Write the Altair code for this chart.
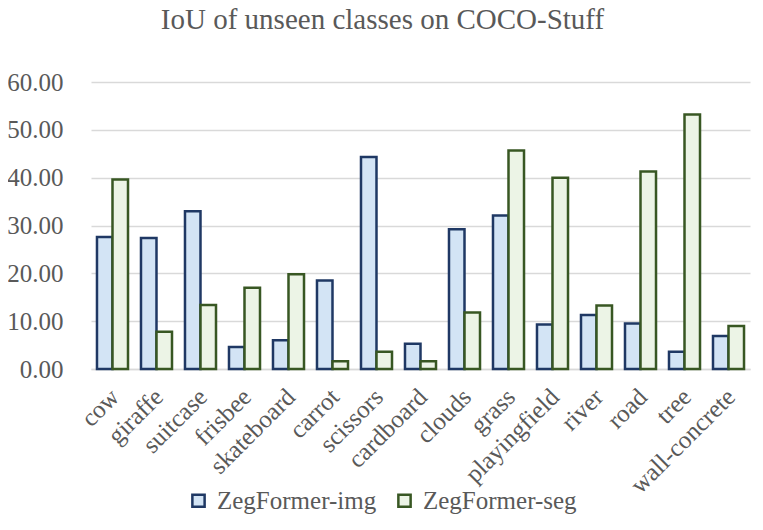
import altair as alt
import pandas as pd

categories = ["cow", "giraffe", "suitcase", "frisbee", "skateboard", "carrot", "scissors",
              "cardboard", "clouds", "grass", "playingfield", "river", "road", "tree", "wall-concrete"]
img_values = [27.6, 27.4, 33.0, 4.6, 6.0, 18.5, 44.3, 5.3, 29.2, 32.1, 9.3, 11.3, 9.5, 3.6, 6.9]
seg_values = [39.6, 7.8, 13.4, 17.0, 19.8, 1.6, 3.6, 1.6, 11.8, 45.7, 40.0, 13.3, 41.3, 53.2, 9.0]
series = ["ZegFormer-img", "ZegFormer-seg"]
fills = ["#D3E4F5", "#ECF4E6"]
strokes = ["#1F3864", "#385723"]

rows = []
for c, a, b in zip(categories, img_values, seg_values):
    rows.append({"cls": c, "series": series[0], "iou": a})
    rows.append({"cls": c, "series": series[1], "iou": b})
df = pd.DataFrame(rows)

FONT = "Liberation Serif"
GRAY = "#595959"
GRID = "#D9D9D9"

legend = alt.Legend(
    title=None, orient="none", direction="horizontal", legendX=95, legendY=406,
    labelFont=FONT, labelFontSize=25, labelColor=GRAY, symbolType="square",
    symbolSize=150, symbolStrokeWidth=2.5, labelOffset=6, columnPadding=15, padding=0,
)

chart = alt.Chart(df).mark_bar(strokeWidth=2.5, strokeJoin="miter").encode(
    x=alt.X("cls:N", sort=categories, title=None,
            scale=alt.Scale(paddingInner=0.295, paddingOuter=0.136),
            axis=alt.Axis(labelAngle=-45, labelFont=FONT, labelFontSize=25, labelColor=GRAY,
                          ticks=False, domainColor=GRID, domainWidth=1.5, labelPadding=15,
                          labelOffset=-6)),
    xOffset=alt.XOffset("series:N", sort=series, scale=alt.Scale(paddingInner=0, paddingOuter=0)),
    y=alt.Y("iou:Q", title=None, scale=alt.Scale(domain=[0, 60], nice=False),
            axis=alt.Axis(values=[0, 10, 20, 30, 40, 50, 60], format=".2f", labelFont=FONT,
                          labelFontSize=25, labelColor=GRAY, domain=False, ticks=False,
                          gridColor=GRID, gridWidth=1.5, labelPadding=28)),
    color=alt.Color("series:N", sort=series, scale=alt.Scale(domain=series, range=fills), legend=legend),
    stroke=alt.Stroke("series:N", sort=series, scale=alt.Scale(domain=series, range=strokes), legend=legend),
).properties(
    width=659, height=287,
    title=alt.TitleParams("IoU of unseen classes on COCO-Stuff", font=FONT, fontSize=29,
                          fontWeight="normal", color=GRAY, offset=35, dx=-38),
    autosize=alt.AutoSizeParams(type="none"),
    padding={"left": 83, "top": 74, "right": 5, "bottom": 150},
).configure(background="white").configure_view(strokeWidth=0, stroke=None)

chart.save("out.html", embed_options={"renderer": "svg", "actions": False})
